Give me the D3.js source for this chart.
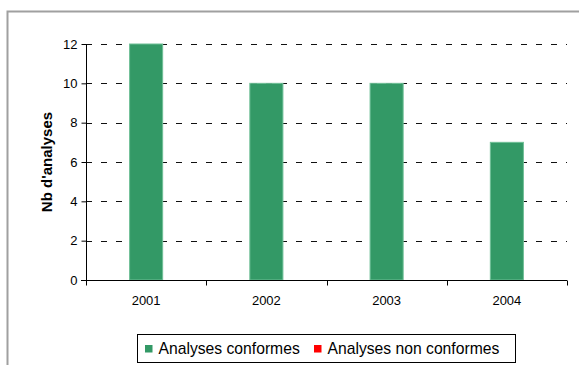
<!DOCTYPE html>
<html>
<head>
<meta charset="utf-8">
<script src="https://cdn.jsdelivr.net/npm/d3@7/dist/d3.min.js"></script>
<style>
  html, body { margin: 0; padding: 0; background: #fff; }
  svg { display: block; font-family: Arial, "Liberation Sans", sans-serif; }
</style>
</head>
<body>
<svg id="chart" width="579" height="365"></svg>
<script>
// Analyses per year
const years = ["2001", "2002", "2003", "2004"];
const conformes = [12, 10, 10, 7];
const nonConformes = [0, 0, 0, 0];
const yTicks = [0, 2, 4, 6, 8, 10, 12];
const seriesNames = ["Analyses conformes", "Analyses non conformes"];
const seriesColors = ["#339966", "#ff0000"];

const svg = d3.select("#chart");

// outer frame
svg.append("rect")
  .attr("x", 7.5).attr("y", 11.5)
  .attr("width", 590).attr("height", 370)
  .attr("fill", "#fff")
  .attr("stroke", "#a0a0a0").attr("stroke-width", 2);

const plot = { left: 86, right: 567, top: 44, bottom: 280 };

const x = d3.scaleBand().domain(years).range([plot.left, plot.right]).padding(0);
const y = d3.scaleLinear().domain([0, 12]).range([plot.bottom, plot.top]);

// dashed gridlines
svg.append("g")
  .selectAll("line")
  .data(yTicks.filter(d => d > 0))
  .join("line")
  .attr("x1", plot.left).attr("x2", plot.right)
  .attr("y1", d => Math.round(y(d)) + 0.5).attr("y2", d => Math.round(y(d)) + 0.5)
  .attr("stroke", "#111").attr("stroke-width", 1)
  .attr("stroke-dasharray", "6,9");

// bars (each year's total split in conformes / non conformes, stacked)
const barW = x.bandwidth() * 0.275;
const stacks = years.map((yr, i) => ({ yr, c: conformes[i], n: nonConformes[i] }));

svg.append("g")
  .selectAll("rect")
  .data(stacks)
  .join("rect")
  .attr("x", d => x(d.yr) + (x.bandwidth() - barW) / 2)
  .attr("y", d => y(d.c))
  .attr("width", barW)
  .attr("height", d => y(0) - y(d.c))
  .attr("fill", seriesColors[0])
  .attr("stroke", "#6fbf96").attr("stroke-width", 1);

svg.append("g")
  .selectAll("rect")
  .data(stacks.filter(d => d.n > 0))
  .join("rect")
  .attr("x", d => x(d.yr) + (x.bandwidth() - barW) / 2)
  .attr("y", d => y(d.c + d.n))
  .attr("width", barW)
  .attr("height", d => y(d.c) - y(d.c + d.n))
  .attr("fill", seriesColors[1]);

// y axis
const yAxis = svg.append("g")
  .attr("transform", `translate(${plot.left + 0.5},0)`)
  .call(d3.axisLeft(y).tickValues(yTicks).tickSize(5).tickPadding(4).tickFormat(d3.format("d")));
yAxis.selectAll("path, line").attr("stroke", "#000");
yAxis.select(".domain").attr("d", `M0,${plot.top}V${plot.bottom}`);
yAxis.selectAll("text")
  .attr("font-size", 13).attr("fill", "#000")
  .attr("font-family", "Arial, 'Liberation Sans', sans-serif");

// x axis with ticks between categories
const xAxis = svg.append("g")
  .attr("transform", `translate(0,${plot.bottom + 0.5})`);
xAxis.append("line")
  .attr("x1", plot.left - 5).attr("x2", plot.right)
  .attr("stroke", "#000");
const bounds = years.map(d => x(d)).concat([plot.right]);
xAxis.selectAll("line.tick")
  .data(bounds)
  .join("line")
  .attr("class", "tick")
  .attr("x1", d => Math.round(d) + 0.5).attr("x2", d => Math.round(d) + 0.5)
  .attr("y1", 0).attr("y2", 5)
  .attr("stroke", "#000");
xAxis.selectAll("text")
  .data(years)
  .join("text")
  .attr("x", d => x(d) + x.bandwidth() / 2)
  .attr("y", 24.5)
  .attr("text-anchor", "middle")
  .attr("font-size", 13)
  .text(d => d);

// y axis title
svg.append("text")
  .attr("transform", "translate(52,162) rotate(-90)")
  .attr("text-anchor", "middle")
  .attr("font-size", 15)
  .attr("font-weight", "bold")
  .text("Nb d'analyses");

// legend
const legend = svg.append("g");
legend.append("rect")
  .attr("x", 137.5).attr("y", 334.5)
  .attr("width", 378).attr("height", 28)
  .attr("fill", "#fff").attr("stroke", "#000").attr("stroke-width", 1);

const itemX = [145, 314];
const items = legend.selectAll("g.item")
  .data(seriesNames)
  .join("g")
  .attr("class", "item")
  .attr("transform", (d, i) => `translate(${itemX[i]},0)`);
items.append("rect")
  .attr("x", 0).attr("y", 345)
  .attr("width", 7.5).attr("height", 7.5)
  .attr("fill", (d, i) => seriesColors[i]);
items.append("text")
  .attr("x", 13.5).attr("y", 354)
  .attr("font-size", 15.7)
  .text(d => d);
</script>
</body>
</html>
